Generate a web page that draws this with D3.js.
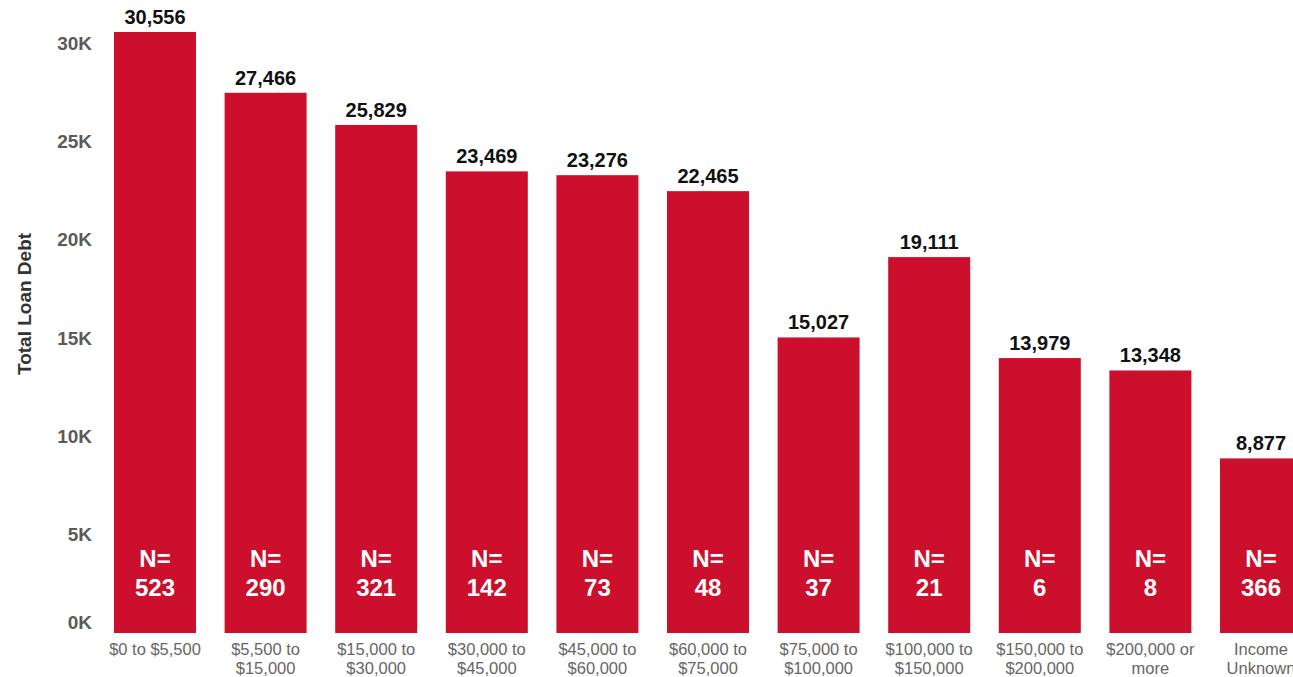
<!DOCTYPE html>
<html>
<head>
<meta charset="utf-8">
<script src="https://cdn.jsdelivr.net/npm/d3@7"></script>
<style>
  html, body { margin: 0; padding: 0; background: #fff; overflow: hidden; }
  svg { display: block; font-family: "Liberation Sans", Arial, sans-serif; }
</style>
</head>
<body>
<svg id="chart" width="1293" height="677"></svg>
<script>
// Income brackets (each label is split over two lines)
const categories = [
  ["$0 to $5,500"],
  ["$5,500 to", "$15,000"],
  ["$15,000 to", "$30,000"],
  ["$30,000 to", "$45,000"],
  ["$45,000 to", "$60,000"],
  ["$60,000 to", "$75,000"],
  ["$75,000 to", "$100,000"],
  ["$100,000 to", "$150,000"],
  ["$150,000 to", "$200,000"],
  ["$200,000 or", "more"],
  ["Income", "Unknown"]
];
// Average total loan debt per bracket
const debt = [30556, 27466, 25829, 23469, 23276, 22465, 15027, 19111, 13979, 13348, 8877];
// Respondents per bracket
const counts = [523, 290, 321, 142, 73, 48, 37, 21, 6, 8, 366];
// Y axis ticks
const yTicks = [0, 5000, 10000, 15000, 20000, 25000, 30000];
const yTickLabels = ["0K", "5K", "10K", "15K", "20K", "25K", "30K"];

const svg = d3.select("#chart");
const barColor = "#cb0f2d";

const pad = 0.2586;
const x = d3.scaleBand()
  .domain(d3.range(categories.length))
  .range([99.7, 99.7 + 11 * 110.6])
  .paddingInner(pad)
  .paddingOuter(pad / 2);

const y = d3.scaleLinear()
  .domain([0, 30556])
  .range([633, 32]);

// Y axis labels (the zero label sits a little above the baseline)
svg.append("g").selectAll("text")
  .data(yTicks)
  .join("text")
  .attr("x", 92)
  .attr("y", d => (d === 0 ? y(d) - 11 : y(d)))
  .attr("dy", "0.36em")
  .attr("text-anchor", "end")
  .attr("fill", "#5a5a5a")
  .attr("font-size", 19)
  .attr("font-weight", "bold")
  .text((d, i) => yTickLabels[i]);

svg.append("text")
  .attr("transform", "translate(31,304) rotate(-90)")
  .attr("text-anchor", "middle")
  .attr("fill", "#333")
  .attr("font-size", 19)
  .attr("font-weight", "bold")
  .text("Total Loan Debt");

// Bars
const bars = svg.append("g").selectAll("g")
  .data(debt)
  .join("g");

bars.append("rect")
  .attr("x", (d, i) => x(i))
  .attr("y", d => y(d))
  .attr("width", x.bandwidth())
  .attr("height", d => y(0) - y(d))
  .attr("fill", barColor);

// Value labels above bars
bars.append("text")
  .attr("x", (d, i) => x(i) + x.bandwidth() / 2)
  .attr("y", d => y(d) - 8)
  .attr("text-anchor", "middle")
  .attr("font-size", 20)
  .attr("font-weight", "bold")
  .attr("fill", "#111")
  .text(d => d3.format(",")(d));

// Sample size labels inside bars
bars.append("text")
  .attr("x", (d, i) => x(i) + x.bandwidth() / 2)
  .attr("y", 567)
  .attr("text-anchor", "middle")
  .attr("font-size", 24)
  .attr("font-weight", "bold")
  .attr("fill", "#fff")
  .text("N=");

bars.append("text")
  .attr("x", (d, i) => x(i) + x.bandwidth() / 2)
  .attr("y", 596)
  .attr("text-anchor", "middle")
  .attr("font-size", 24)
  .attr("font-weight", "bold")
  .attr("fill", "#fff")
  .text((d, i) => counts[i]);

// Category labels
const xLabels = svg.append("g").selectAll("text")
  .data(categories)
  .join("text")
  .attr("x", (d, i) => x(i) + x.bandwidth() / 2)
  .attr("y", 655)
  .attr("text-anchor", "middle")
  .attr("font-size", 16.5)
  .attr("fill", "#666");

xLabels.selectAll("tspan")
  .data(d => d)
  .join("tspan")
  .attr("x", function () { return d3.select(this.parentNode).attr("x"); })
  .attr("dy", (d, j) => (j === 0 ? 0 : 19))
  .text(d => d);
</script>
</body>
</html>
